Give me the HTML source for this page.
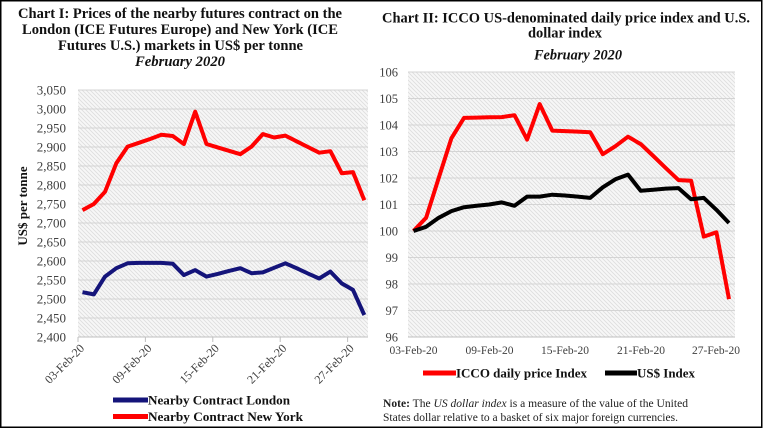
<!DOCTYPE html>
<html><head><meta charset="utf-8"><style>
html,body{margin:0;padding:0;background:#fff;}
svg{display:block;}
text{font-family:"Liberation Serif","Times New Roman",serif;}
</style></head><body>
<svg width="765" height="430" viewBox="0 0 765 430" xmlns="http://www.w3.org/2000/svg">
<defs>
<pattern id="h" patternUnits="userSpaceOnUse" width="4" height="4">
<rect width="4" height="4" fill="#f7f7f7"/>
<path d="M0,0L4,4M-1,3L1,5M3,-1L5,1" stroke="#dedede" stroke-width="0.9"/>
</pattern>
</defs>
<rect x="0" y="0" width="765" height="430" fill="#fff"/>
<rect x="0.75" y="0.75" width="761" height="426.5" fill="none" stroke="#000" stroke-width="1.5"/>

<!-- Chart I title -->
<g font-weight="bold" font-size="14.5" fill="#111" text-anchor="middle">
<text x="180" y="18" textLength="324" lengthAdjust="spacingAndGlyphs">Chart I: Prices of the nearby futures contract on the</text>
<text x="180" y="34" textLength="316" lengthAdjust="spacingAndGlyphs">London (ICE Futures Europe) and New York (ICE</text>
<text x="180.5" y="50" textLength="245" lengthAdjust="spacingAndGlyphs">Futures U.S.) markets in US$ per tonne</text>
<text x="180" y="66" font-style="italic" textLength="90" lengthAdjust="spacingAndGlyphs">February 2020</text>
</g>

<!-- Chart I plot -->
<rect x="78" y="90" width="290" height="247" fill="url(#h)"/>
<g stroke="#d4d4d4" stroke-width="1">
<line x1="78" x2="368" y1="90" y2="90"/><line x1="78" x2="368" y1="109" y2="109"/>
<line x1="78" x2="368" y1="128" y2="128"/><line x1="78" x2="368" y1="147" y2="147"/>
<line x1="78" x2="368" y1="166" y2="166"/><line x1="78" x2="368" y1="185" y2="185"/>
<line x1="78" x2="368" y1="204" y2="204"/><line x1="78" x2="368" y1="223" y2="223"/>
<line x1="78" x2="368" y1="242" y2="242"/><line x1="78" x2="368" y1="261" y2="261"/>
<line x1="78" x2="368" y1="280" y2="280"/><line x1="78" x2="368" y1="299" y2="299"/>
<line x1="78" x2="368" y1="318" y2="318"/>
</g>
<line x1="78" x2="368" y1="337" y2="337" stroke="#bfbfbf" stroke-width="1"/>
<g stroke="#bfbfbf" stroke-width="1">
<line x1="78" x2="78" y1="337" y2="342"/><line x1="145.4" x2="145.4" y1="337" y2="342"/>
<line x1="212.8" x2="212.8" y1="337" y2="342"/><line x1="280.2" x2="280.2" y1="337" y2="342"/>
<line x1="347.6" x2="347.6" y1="337" y2="342"/>
</g>
<g font-size="13" fill="#404040" text-anchor="end">
<text x="66" y="94.5">3,050</text><text x="66" y="113.5">3,000</text>
<text x="66" y="132.5">2,950</text><text x="66" y="151.5">2,900</text>
<text x="66" y="170.5">2,850</text><text x="66" y="189.5">2,800</text>
<text x="66" y="208.5">2,750</text><text x="66" y="227.5">2,700</text>
<text x="66" y="246.5">2,650</text><text x="66" y="265.5">2,600</text>
<text x="66" y="284.5">2,550</text><text x="66" y="303.5">2,500</text>
<text x="66" y="322.5">2,450</text><text x="66" y="341.5">2,400</text>
</g>
<text transform="translate(27,206) rotate(-90)" text-anchor="middle" font-weight="bold" font-size="13" fill="#111">US$ per tonne</text>
<g font-size="12" fill="#404040" text-anchor="end">
<text transform="translate(85,349) rotate(-45)">03-Feb-20</text>
<text transform="translate(152.4,349) rotate(-45)">09-Feb-20</text>
<text transform="translate(219.8,349) rotate(-45)">15-Feb-20</text>
<text transform="translate(287.2,349) rotate(-45)">21-Feb-20</text>
<text transform="translate(354.6,349) rotate(-45)">27-Feb-20</text>
</g>
<polyline fill="none" stroke="#ff0000" stroke-width="4" stroke-linejoin="round" points="82.5,210.1 93.8,204 105,191.8 116.3,163.3 127.6,146.6 138.9,142.8 150.1,139 161.4,134.8 172.7,136 183.9,144 195.2,111.7 206.5,144 217.7,147.4 229,150.8 240.3,154.2 251.5,146.6 262.8,134.1 274.1,137.5 285.4,135.6 296.6,141.3 307.9,147 319.2,152.7 330.4,151.2 341.7,173.2 353,172.1 364.3,200.2"/>
<polyline fill="none" stroke="#14147a" stroke-width="4" stroke-linejoin="round" points="82.5,292.2 93.8,294.4 105,276.6 116.3,268.2 127.6,263.3 138.9,262.9 150.1,262.9 161.4,262.9 172.7,263.7 183.9,275.1 195.2,270.1 206.5,276.6 217.7,273.9 229,270.9 240.3,268.2 251.5,273.2 262.8,272.4 274.1,267.8 285.4,263.3 296.6,268.2 307.9,273.5 319.2,278.5 330.4,271.6 341.7,283.4 353,289.9 364.3,315"/>
<!-- Chart I legend -->
<line x1="113" x2="148" y1="400" y2="400" stroke="#14147a" stroke-width="5"/>
<line x1="113" x2="148" y1="416.5" y2="416.5" stroke="#ff0000" stroke-width="5"/>
<g font-weight="bold" font-size="13" fill="#111">
<text x="148" y="404.5" textLength="142" lengthAdjust="spacingAndGlyphs">Nearby Contract London</text>
<text x="148" y="421" textLength="155" lengthAdjust="spacingAndGlyphs">Nearby Contract New York</text>
</g>

<!-- Chart II title -->
<g font-weight="bold" font-size="14.5" fill="#111" text-anchor="middle">
<text x="566" y="22.5" textLength="368" lengthAdjust="spacingAndGlyphs">Chart II: ICCO US-denominated daily price index and U.S.</text>
<text x="565" y="37.5" textLength="74" lengthAdjust="spacingAndGlyphs">dollar index</text>
<text x="578" y="59.5" font-style="italic" textLength="88" lengthAdjust="spacingAndGlyphs">February 2020</text>
</g>

<!-- Chart II plot -->
<rect x="408" y="72" width="327" height="265" fill="url(#h)"/>
<g stroke="#d4d4d4" stroke-width="1">
<line x1="408" x2="735" y1="72" y2="72"/><line x1="408" x2="735" y1="98.5" y2="98.5"/>
<line x1="408" x2="735" y1="125" y2="125"/><line x1="408" x2="735" y1="151.5" y2="151.5"/>
<line x1="408" x2="735" y1="178" y2="178"/><line x1="408" x2="735" y1="204.5" y2="204.5"/>
<line x1="408" x2="735" y1="231" y2="231"/><line x1="408" x2="735" y1="257.5" y2="257.5"/>
<line x1="408" x2="735" y1="284" y2="284"/><line x1="408" x2="735" y1="310.5" y2="310.5"/>
</g>
<line x1="408" x2="735" y1="337" y2="337" stroke="#bfbfbf" stroke-width="1"/>
<g font-size="12.5" fill="#404040" text-anchor="end">
<text x="398" y="76.5">106</text><text x="398" y="103">105</text>
<text x="398" y="129.5">104</text><text x="398" y="156">103</text>
<text x="398" y="182.5">102</text><text x="398" y="209">101</text>
<text x="398" y="235.5">100</text><text x="398" y="262">99</text>
<text x="398" y="288.5">98</text><text x="398" y="315">97</text>
<text x="398" y="341.5">96</text>
</g>
<g font-size="11.5" fill="#404040" text-anchor="middle">
<text x="413.5" y="354">03-Feb-20</text>
<text x="489.5" y="354">09-Feb-20</text>
<text x="565" y="354">15-Feb-20</text>
<text x="641" y="354">21-Feb-20</text>
<text x="716" y="354">27-Feb-20</text>
</g>
<polyline fill="none" stroke="#ff0000" stroke-width="4" stroke-linejoin="round" points="413.5,231 426.1,217.8 438.7,178 451.4,138.3 464,117.9 476.6,117.6 489.2,117.3 501.8,117.1 514.5,115.2 527.1,139.6 539.7,104.1 552.3,130.6 564.9,131.1 577.6,131.6 590.2,132.2 602.8,154.2 615.4,146.2 628,136.7 640.7,144.1 653.3,156 665.9,168.2 678.5,180.1 691.1,180.7 703.8,236.6 716.4,232.3 729,299.1"/>
<polyline fill="none" stroke="#000" stroke-width="4" stroke-linejoin="round" points="413.5,231 426.1,226.8 438.7,217.8 451.4,211.1 464,207.2 476.6,205.8 489.2,204.5 501.8,202.4 514.5,205.8 527.1,196.6 539.7,196.6 552.3,194.7 564.9,195.5 577.6,196.6 590.2,197.9 602.8,187.3 615.4,179.3 628,174.6 640.7,190.7 653.3,189.7 665.9,188.6 678.5,188.1 691.1,199.2 703.8,197.9 716.4,209.8 729,223"/>
<!-- Chart II legend -->
<line x1="423" x2="456" y1="373" y2="373" stroke="#ff0000" stroke-width="5"/>
<line x1="605" x2="637" y1="373" y2="373" stroke="#000" stroke-width="5"/>
<g font-weight="bold" font-size="13" fill="#111">
<text x="456" y="377.5" textLength="131" lengthAdjust="spacingAndGlyphs">ICCO daily price Index</text>
<text x="637" y="377.5" textLength="58" lengthAdjust="spacingAndGlyphs">US$ Index</text>
</g>
<!-- Note -->
<g font-size="11.5" fill="#222">
<text x="383" y="407" textLength="305" lengthAdjust="spacingAndGlyphs"><tspan font-weight="bold">Note:</tspan> The <tspan font-style="italic">US dollar index</tspan> is a measure of the value of the United</text>
<text x="383" y="421" textLength="295" lengthAdjust="spacingAndGlyphs">States dollar relative to a basket of six major foreign currencies.</text>
</g>
</svg>
</body></html>
